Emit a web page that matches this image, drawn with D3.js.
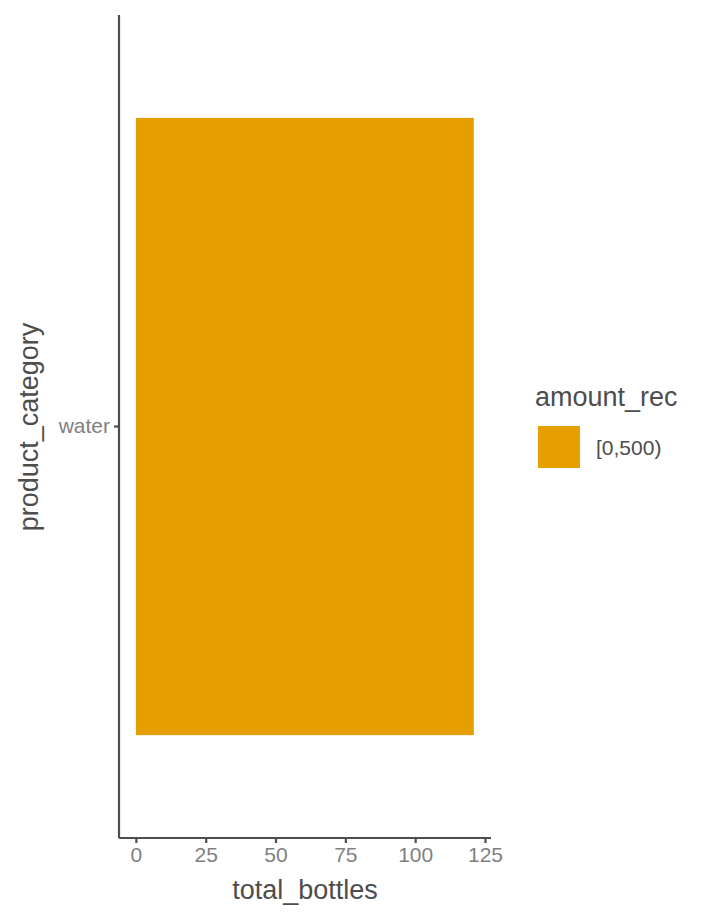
<!DOCTYPE html>
<html><head><meta charset="utf-8">
<script src="https://cdn.jsdelivr.net/npm/d3@7"></script>
<style>body{margin:0;background:#fff}</style>
</head><body><div id="chart"></div>
<script>
const categories = ['water'];
const totals = [121];
const groups = ['[0,500)'];
const xTicks = [0, 25, 50, 75, 100, 125];
const colors = ['#E69F00'];

const svg = d3.select('#chart').append('svg').attr('width', 720).attr('height', 921);
const font = 'Liberation Sans, Arial, sans-serif';

// panel: left 119, right 491, top 15, bottom 838
const x = d3.scaleLinear().domain([-6.05, 127.15]).range([119, 491]);
const y = d3.scaleBand().domain(categories).range([15, 838]).paddingInner(0.25).paddingOuter(0.125);

svg.selectAll('rect.bar').data(categories).enter().append('rect')
    .attr('x', x(0)).attr('y', d => y(d))
    .attr('width', (d, i) => x(totals[i]) - x(0))
    .attr('height', y.bandwidth())
    .attr('fill', colors[0]);

const xa = svg.append('g').attr('transform', 'translate(0,838)')
    .call(d3.axisBottom(x).tickValues(xTicks).tickSize(5).tickPadding(4).tickSizeOuter(0));
const ya = svg.append('g').attr('transform', 'translate(119,0)')
    .call(d3.axisLeft(y).tickSize(5).tickPadding(4).tickSizeOuter(0));
[xa, ya].forEach(a => {
    a.select('.domain').attr('stroke', '#4d4d4d').attr('stroke-width', 2.2);
    a.selectAll('.tick line').attr('stroke', '#4d4d4d').attr('stroke-width', 2.2);
    a.selectAll('.tick text').attr('fill', '#7f7f7f').style('font', '21px ' + font);
});
ya.select('.domain').attr('d', 'M0,15V838');
xa.select('.domain').attr('d', 'M119,0H491');

svg.append('text').attr('x', 305).attr('y', 899).attr('text-anchor', 'middle')
    .attr('fill', '#4d4d4d').style('font', '27px ' + font).text('total_bottles');
svg.append('text').attr('transform', 'translate(38,427) rotate(-90)').attr('text-anchor', 'middle')
    .attr('fill', '#4d4d4d').style('font', '27px ' + font).text('product_category');

// legend
svg.append('text').attr('x', 535).attr('y', 406).attr('fill', '#4d4d4d')
    .style('font', '27px ' + font).text('amount_rec');
const lg = svg.selectAll('g.leg').data(groups).enter().append('g')
    .attr('transform', (d, i) => `translate(538,${426 + i * 43})`);
lg.append('rect').attr('width', 42).attr('height', 42).attr('fill', (d, i) => colors[i]);
lg.append('text').attr('x', 58).attr('y', 29).attr('fill', '#4d4d4d')
    .style('font', '21px ' + font).text(d => d);
</script></body></html>
